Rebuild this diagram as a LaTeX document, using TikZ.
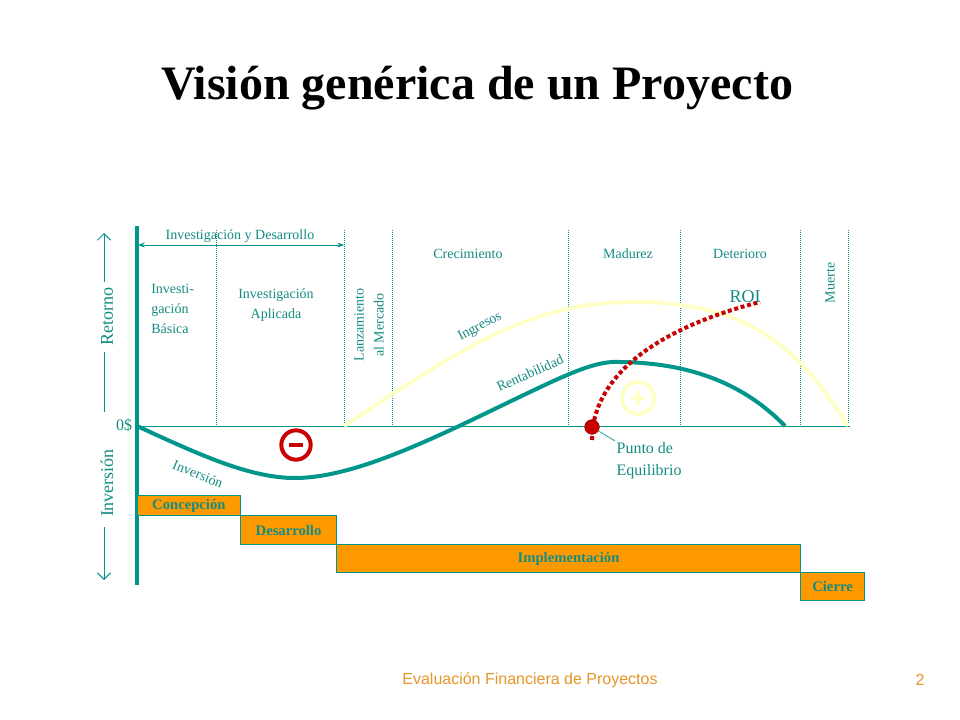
\documentclass[tikz,border=0pt]{standalone}
\usepackage{fontspec}
\setmainfont{Liberation Serif}
\newfontfamily\footfont{Liberation Sans}
\usetikzlibrary{arrows.meta,calc}
\definecolor{teal1}{RGB}{0,150,140}
\definecolor{tealtx}{RGB}{20,140,130}
\definecolor{pale}{RGB}{255,255,200}
\definecolor{orng}{RGB}{255,153,0}
\definecolor{redd}{RGB}{200,0,0}
\definecolor{footc}{RGB}{230,150,40}
\begin{document}
\begin{tikzpicture}[x=0.75pt,y=-0.75pt,
  lbl/.style={text=tealtx,font=\fontsize{10.5}{12}\selectfont,inner sep=0pt},
  vdot/.style={draw=teal1,densely dotted,line width=0.5pt},
  bar/.style={draw=teal1,fill=orng,line width=0.8pt,inner sep=0pt,text=tealtx,font=\bfseries\fontsize{11}{12}\selectfont},
  curveT/.style={draw=teal1,line width=3pt},
  ax/.style={draw=teal1,line width=0.6pt}]
\useasboundingbox[fill=white] (0,0) rectangle (960,720);
\node[font=\bfseries\fontsize{36}{40}\selectfont] (title) at (477,88) {Visión genérica de un Proyecto};
% dotted verticals
\foreach \x/\n in {216/a,344/b,392/c,568/d,680/e,800/f,848/g}{
  \coordinate (t\n) at (\x,230); \coordinate (b\n) at (\x,426);
  \draw[vdot] (t\n) -- (b\n);}
% axes
\coordinate (o) at (137,426); \coordinate (xe) at (850,426);
\coordinate (vt) at (137,226); \coordinate (vb) at (137,585);
\draw[ax] (o) -- (xe);
\draw[teal1,line width=2.5pt] (vt) -- (vb);
% R&D arrow
\coordinate (ra) at (138,245); \coordinate (rb) at (344,245);
\draw[teal1,line width=0.7pt,{Stealth[length=5pt]}-{Stealth[length=5pt]}] (ra) -- (rb);
\node[lbl,anchor=south] (rd) at (240,243) {Investigación y Desarrollo};
% left axis labels
\node[text=tealtx,font=\fontsize{13.5}{14}\selectfont,rotate=90] (ret) at (107,317) {Retorno};
\node[text=tealtx,font=\fontsize{13.5}{14}\selectfont,rotate=90] (inv) at (107,483) {Inversión};
\node[text=tealtx,font=\fontsize{12}{14}\selectfont] (zero) at (124,425) {0\$};
\coordinate (l1) at (104,233); \coordinate (l2) at (104,282);
\coordinate (l3) at (104,352); \coordinate (l4) at (104,412);
\coordinate (l7) at (104,527); \coordinate (l8) at (104,580);
\draw[teal1,line width=0.7pt,-{Straight Barb[length=5pt]}] (l2) -- (l1);
\draw[teal1,line width=0.7pt] (l3) -- (l4);
\draw[teal1,line width=0.7pt,-{Straight Barb[length=5pt]}] (l7) -- (l8);
% phase labels
\node[lbl] (cre) at (468,254) {Crecimiento};
\node[lbl] (mad) at (628,254) {Madurez};
\node[lbl] (det) at (740,254) {Deterioro};
\node[lbl,rotate=90] (mue) at (830,283) {Muerte};
\node[lbl,align=left,anchor=north west,font=\fontsize{10.5}{15}\selectfont] (ib) at (151,284) {Investi-\\gación\\Básica};
\node[lbl,align=center,anchor=north,font=\fontsize{10.5}{15}\selectfont] (ia) at (276,288) {Investigación\\Aplicada};
\node[lbl,rotate=90,align=center,font=\fontsize{10.5}{15}\selectfont] (lm) at (369,325) {Lanzamiento\\al Mercado};
% curves
\coordinate (i0) at (344,426); \coordinate (i1) at (848,426);
\draw[pale,line width=3pt] (i0) .. controls (460,350) and (530,300) .. (640,302) .. controls (730,304) and (790,330) .. (i1);
\coordinate (c0) at (137,426); \coordinate (cm) at (295,478); \coordinate (cp) at (620,362); \coordinate (c1) at (785,426);
\draw[curveT] (c0) .. controls (200,455) and (250,478) .. (cm) .. controls (360,478) and (450,430) .. (530,392) .. controls (580,368) and (600,361) .. (cp) .. controls (700,363) and (750,390) .. (c1);
% ROI
\coordinate (r0) at (592,440); \coordinate (r1) at (760,302);
\draw[redd,line width=3pt,dotted] (r0) .. controls (592,380) and (650,330) .. (r1);
\node[text=tealtx,font=\fontsize{13.5}{14}\selectfont] (roi) at (745,297) {ROI};
% equilibrium
\node[circle,fill=redd,draw=redd!70!black,minimum size=11pt,inner sep=0pt] (eq) at (592,427) {};
\node[text=tealtx,font=\fontsize{12}{16}\selectfont,align=left,anchor=north west,inner sep=1pt] (pe) at (615,441) {Punto de\\Equilibrio};
\draw[teal1,line width=0.5pt] (eq) -- (pe.north west);
% minus/plus
\node[circle,draw=redd,line width=3pt,minimum size=22pt,inner sep=0pt] (minus) at (296,445) {};
\draw[redd,line width=3.5pt] ($(minus)+(-7,0)$) -- ($(minus)+(7,0)$);
\node[circle,draw=pale,line width=3pt,minimum size=24pt,inner sep=0pt] (plus) at (638,398) {};
\draw[pale,line width=3pt] ($(plus)+(-7,0)$) -- ($(plus)+(7,0)$) ($(plus)+(0,-7)$) -- ($(plus)+(0,7)$);
% curve labels
\node[lbl,rotate=28] (ing) at (480,327) {Ingresos};
\node[lbl,rotate=24] (ren) at (530,373) {Rentabilidad};
\node[lbl,rotate=-22] (invl) at (198,474) {Inversión};
% bars
\node[bar,minimum width=77pt,minimum height=15pt,anchor=north west] (conc) at (137,495) {Concepción};
\node[bar,minimum width=72pt,minimum height=21.75pt,anchor=north west] (des) at (240,515) {Desarrollo};
\node[bar,minimum width=348pt,minimum height=21pt,anchor=north west] (imp) at (336,544) {Implementación};
\node[bar,minimum width=48pt,minimum height=21pt,anchor=north west] (cie) at (800,572) {Cierre};
% footer
\node[text=footc,font=\footfont\fontsize{12}{14}\selectfont] (foot) at (530,680) {Evaluación Financiera de Proyectos};
\node[text=footc,font=\footfont\fontsize{12}{14}\selectfont] (pg) at (920,680) {2};
\end{tikzpicture}
\end{document}
